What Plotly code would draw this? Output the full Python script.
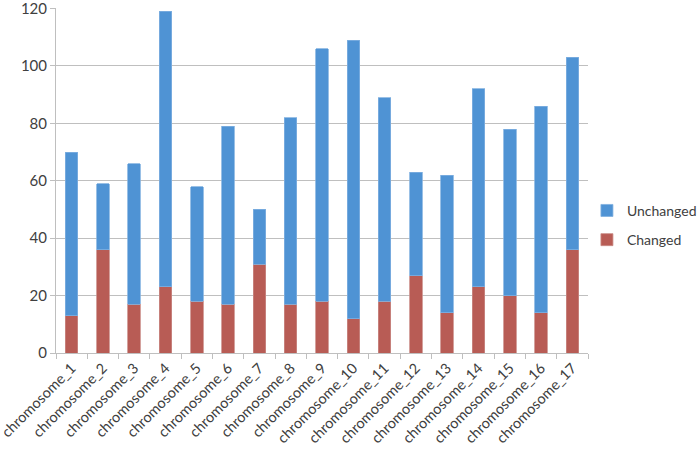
import plotly.graph_objects as go

categories = [f"chromosome_{i}" for i in range(1, 18)]
total = [70, 59, 66, 119, 58, 79, 50, 82, 106, 109, 89, 63, 62, 92, 78, 86, 103]
changed = [13, 36, 17, 23, 18, 17, 31, 17, 18, 12, 18, 27, 14, 23, 20, 14, 36]
unchanged = [t - c for t, c in zip(total, changed)]
y_ticks = [0, 20, 40, 60, 80, 100, 120]

font_family = "Lato, 'Open Sans', sans-serif"
text_color = "#404040"
grid_color = "#BFBFBF"

fig = go.Figure()
fig.add_trace(go.Bar(
    x=categories, y=changed, name="Changed", legendgroup="c", legendrank=2,
    marker=dict(color="#B85C55", line=dict(color="#C98A84", width=0.8)),
))
fig.add_trace(go.Bar(
    x=categories, y=unchanged, name="Unchanged", legendgroup="u", legendrank=1,
    marker=dict(color="#4F93D4", line=dict(color="#7FB0E0", width=0.8)),
))

fig.update_layout(
    barmode="stack",
    bargap=0.6,
    width=700, height=451,
    margin=dict(l=56, r=112, t=8, b=98, autoexpand=False),
    paper_bgcolor="white", plot_bgcolor="white",
    font=dict(family=font_family, size=15, color=text_color),
    showlegend=True,
    legend=dict(
        x=0.998, y=0.37, xanchor="left", yanchor="middle",
        traceorder="grouped", font=dict(size=14, color=text_color),
        itemwidth=30, tracegroupgap=8, bgcolor="rgba(0,0,0,0)",
    ),
    xaxis=dict(
        tickangle=-45, showgrid=False, showline=True, linecolor=grid_color, linewidth=1,
        ticks="outside", tickson="boundaries", ticklen=5, tickcolor=grid_color,
        tickfont=dict(size=14.5, color=text_color), automargin=False,
    ),
    yaxis=dict(
        range=[0, 120.2], tickvals=y_ticks, showgrid=True, gridcolor=grid_color, gridwidth=1,
        showline=True, linecolor=grid_color, linewidth=1, zeroline=False,
        ticks="outside", ticklen=5, tickcolor=grid_color, ticklabeloverflow="allow",
        tickfont=dict(size=15, color=text_color), automargin=False,
    ),
)

fig.write_html(
    "out.html",
    config={"displayModeBar": False},
    post_script="document.body.style.margin='0';document.body.style.overflow='hidden';",
)
